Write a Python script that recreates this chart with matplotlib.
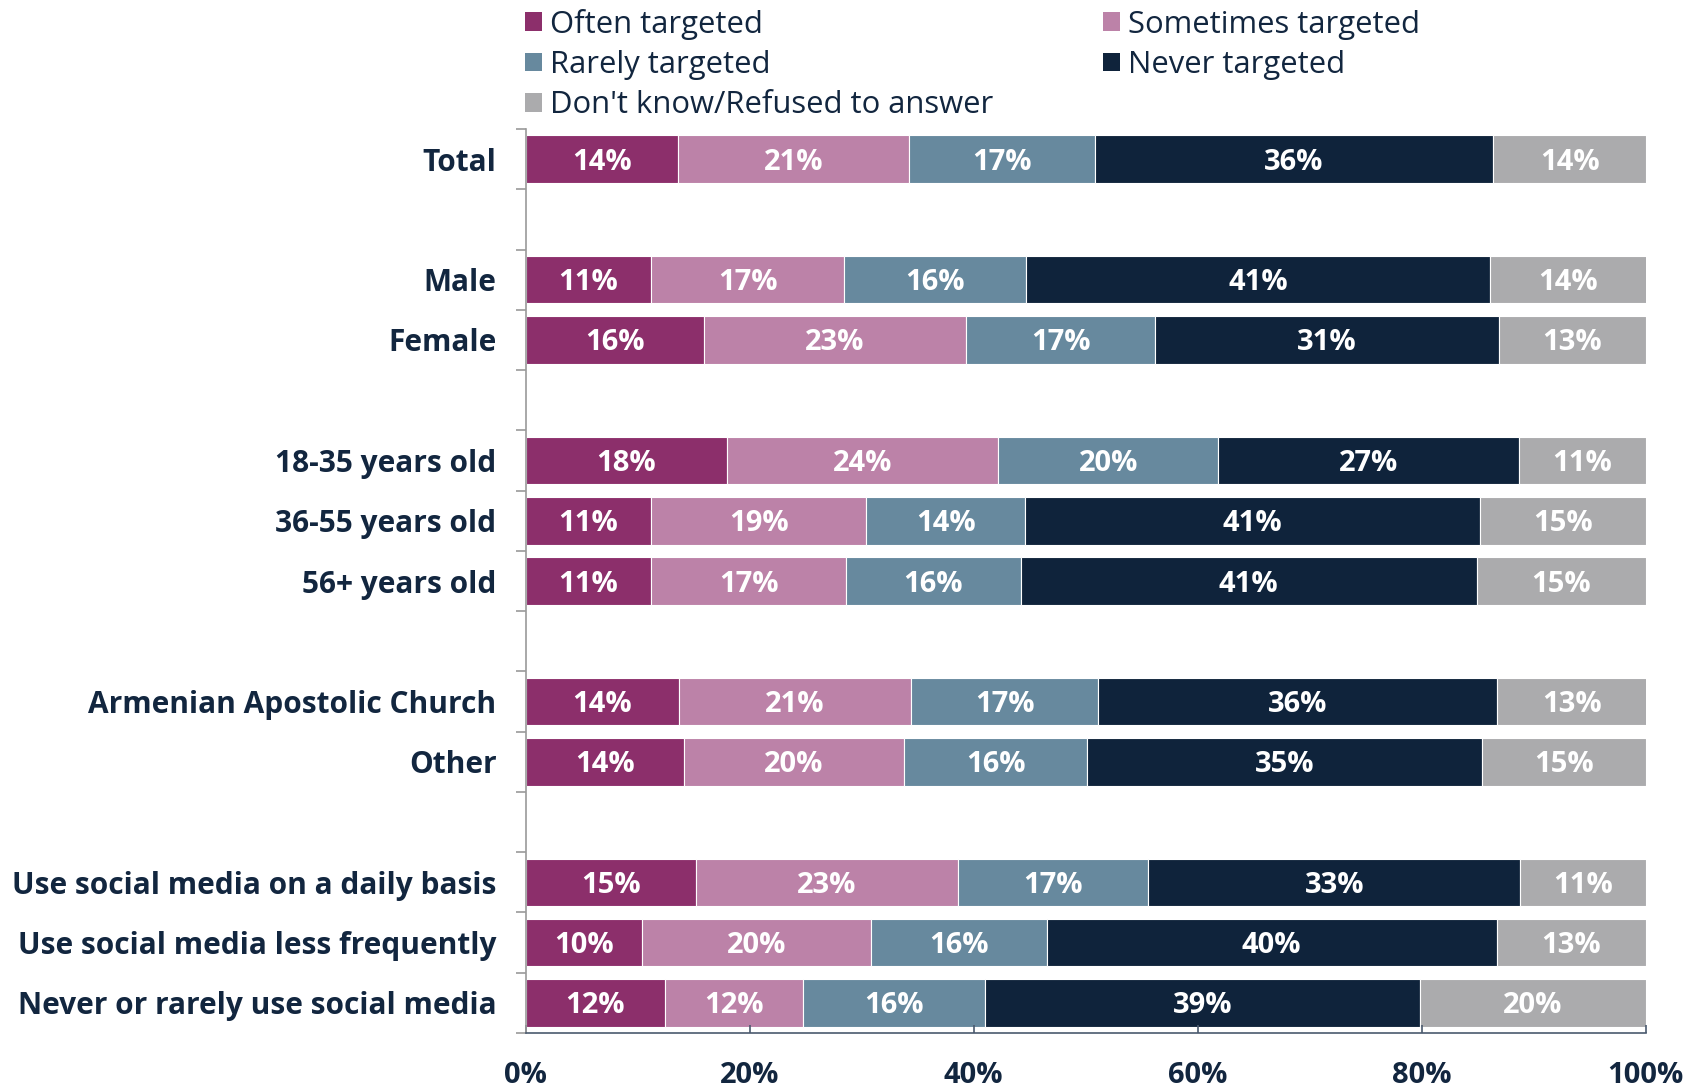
import matplotlib
matplotlib.use("Agg")
import matplotlib.pyplot as plt
from matplotlib.patches import Patch
import numpy as np

# Survey results (% of respondents), one value per category
categories = [
    "Total",
    "Male", "Female",
    "18-35 years old", "36-55 years old", "56+ years old",
    "Armenian Apostolic Church", "Other",
    "Use social media on a daily basis",
    "Use social media less frequently",
    "Never or rarely use social media",
]
group_sizes = [1, 2, 3, 2, 3]

series_names = ["Often targeted", "Sometimes targeted", "Rarely targeted",
                "Never targeted", "Don't know/Refused to answer"]

often     = [13.6, 11.2, 15.9, 18.0, 11.2, 11.2, 13.7, 14.1, 15.2, 10.4, 12.4]
sometimes = [20.6, 17.2, 23.4, 24.2, 19.2, 17.4, 20.7, 19.7, 23.4, 20.4, 12.4]
rarely    = [16.6, 16.3, 16.9, 19.6, 14.2, 15.6, 16.7, 16.3, 17.0, 15.7, 16.2]
never     = [35.6, 41.4, 30.7, 26.9, 40.6, 40.7, 35.6, 35.3, 33.2, 40.2, 38.8]
dont_know = [13.6, 14.0, 13.1, 11.3, 14.8, 15.1, 13.4, 14.6, 11.2, 13.3, 20.2]

x_ticks = [0, 20, 40, 60, 80, 100]
x_tick_labels = ["0%", "20%", "40%", "60%", "80%", "100%"]

colors = ["#8C2F6B", "#BC82A8", "#67899E", "#0F233B", "#ABABAD"]
text_color = "#12263F"

plt.rcParams["font.family"] = ["Open Sans", "DejaVu Sans"]

# Row positions: one blank row between groups
positions = []
row = 0
for size in group_sizes:
    for _ in range(size):
        positions.append(row)
        row += 1
    row += 1
n_rows = row - 1
positions = np.array(positions)

fig = plt.figure(figsize=(17.03, 10.87), dpi=100)
ax = fig.add_axes([0.3087, 0.0497, 0.6577, 0.8316])

label_size = 21
row_px = 0.8316 * 1087 / n_rows
cap_shift = 0.72 * label_size * 100 / 72 / 2 / row_px

all_series = [often, sometimes, rarely, never, dont_know]
left = np.zeros(len(categories))
for vals, col in zip(all_series, colors):
    vals = np.array(vals)
    ax.barh(positions, vals, left=left, height=0.79, color=col,
            edgecolor="white", linewidth=0.8)
    for y, l, v in zip(positions, left, vals):
        ax.text(l + v / 2, y + cap_shift, f"{v:.0f}%", ha="center",
                va="baseline", color="white", fontsize=label_size,
                fontweight="bold")
    left += vals

ax.set_xlim(0, 100)
ax.set_ylim(n_rows - 0.5, -0.5)

ax.set_yticks(positions)
ax.set_yticklabels(categories, fontsize=21.5, fontweight="bold", color=text_color)
ax.set_yticks(np.arange(-0.5, n_rows, 1.0), minor=True)
ax.tick_params(axis="y", which="major", length=0, pad=21)
ax.tick_params(axis="y", which="minor", length=7, width=1.2, color="#9A9A9A")

ax.set_xticks(x_ticks)
ax.set_xticklabels(x_tick_labels, fontsize=21, fontweight="bold", color=text_color)
ax.tick_params(axis="x", direction="in", length=6, width=1.2, color="#4A5A6E", pad=20)

for side in ["top", "right"]:
    ax.spines[side].set_visible(False)
ax.spines["left"].set_color("#9A9A9A")
ax.spines["left"].set_linewidth(1.2)
ax.spines["bottom"].set_color("#4A5A6E")
ax.spines["bottom"].set_linewidth(1.2)

# Legend laid out row by row in two columns
order = [0, 2, 4, 1, 3]
handles = [Patch(facecolor=colors[i], edgecolor="none") for i in order]
labels = [series_names[i] for i in order]
leg = fig.legend(handles, labels, ncol=2, loc="upper left",
                 bbox_to_anchor=(0.3087 - 0.0005, 0.992), frameon=False,
                 fontsize=22.3, handlelength=0.55, handleheight=0.55,
                 handletextpad=0.25, labelspacing=0.33, columnspacing=3.55,
                 borderaxespad=0, borderpad=0.0)
for t in leg.get_texts():
    t.set_color(text_color)

fig.savefig("out.png", dpi=100)
